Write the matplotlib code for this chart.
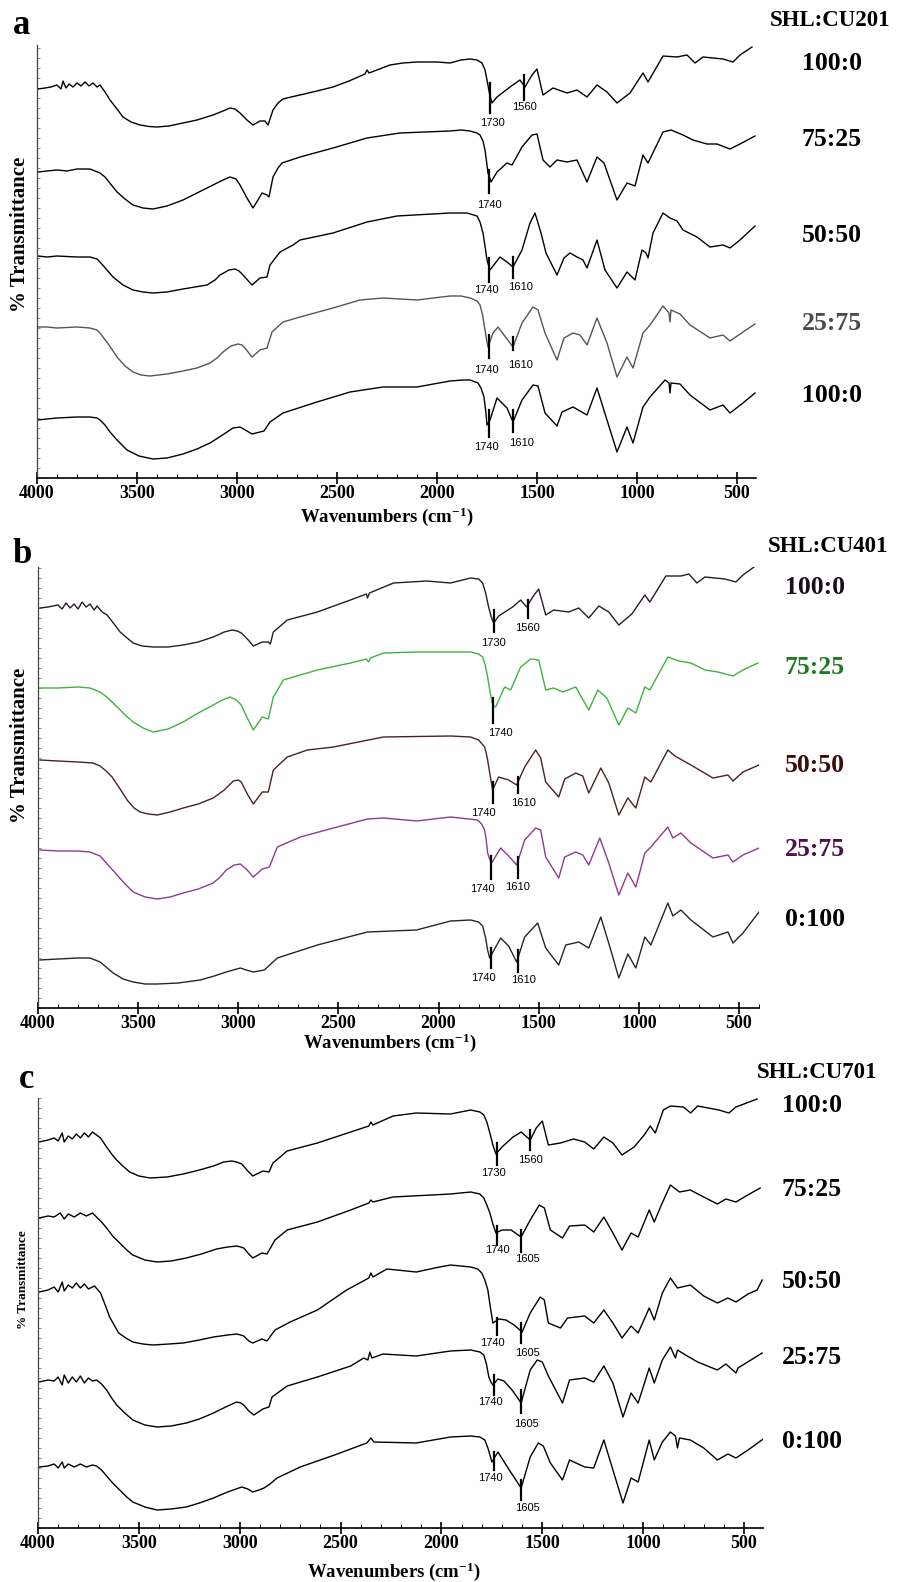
import numpy as np
import matplotlib
matplotlib.use("Agg")
import matplotlib.pyplot as plt
from matplotlib.ticker import MultipleLocator

plt.rcParams["font.family"] = ["Liberation Serif", "DejaVu Serif"]
plt.rcParams["mathtext.default"] = "regular"

# FTIR traces: (wavenumber cm-1, stacked %T in arbitrary units)
# --- panel a : SHL:CU201
a_100_0 = np.array([
    (3995, 389), (3960, 390), (3930, 391), (3900, 393), (3880, 389), (3870, 397), (3855, 390),
    (3840, 394), (3820, 391), (3800, 395), (3780, 392), (3760, 396), (3740, 392), (3720, 395),
    (3700, 391), (3685, 393), (3660, 386), (3635, 378), (3600, 369), (3570, 361), (3530, 356),
    (3485, 353), (3440, 351.5), (3400, 351), (3340, 352), (3270, 355), (3200, 358), (3120, 363),
    (3070, 367), (3035, 370), (3010, 369), (2985, 365), (2950, 358), (2920, 353), (2885, 357),
    (2860, 357), (2845, 353), (2820, 368), (2795, 375), (2770, 379), (2730, 381), (2685, 383),
    (2600, 387), (2520, 391), (2440, 397), (2360, 404), (2350, 408), (2340, 405), (2235, 413),
    (2170, 415), (2100, 416), (2000, 416), (1935, 415), (1880, 418), (1835, 419), (1800, 418),
    (1775, 415), (1760, 408), (1750, 398), (1738, 385), (1725, 375), (1700, 381), (1635, 391),
    (1585, 398), (1560, 391), (1525, 403), (1500, 409), (1470, 383), (1420, 390), (1350, 385),
    (1300, 388), (1250, 381), (1200, 393), (1150, 386), (1100, 375), (1035, 385), (970, 405),
    (945, 396), (870, 422), (800, 421), (750, 423), (710, 415), (670, 421), (570, 419),
    (520, 416), (485, 423), (425, 431)])
a_75_25 = np.array([
    (3995, 306), (3950, 307), (3900, 308), (3850, 307), (3800, 309), (3735, 309), (3685, 305),
    (3660, 301), (3640, 296), (3600, 286), (3560, 279), (3520, 273), (3470, 270), (3420, 269),
    (3350, 272), (3270, 278), (3200, 285), (3120, 293), (3070, 298), (3035, 301), (3005, 299),
    (2985, 293), (2950, 280), (2920, 270), (2895, 278), (2875, 285), (2850, 283), (2840, 281),
    (2820, 301), (2795, 310), (2775, 315), (2685, 321), (2520, 330), (2350, 340), (2185, 345),
    (1935, 347), (1880, 348), (1835, 347), (1800, 345), (1785, 343), (1770, 337), (1760, 328),
    (1752, 316), (1745, 305), (1730, 296), (1700, 306), (1650, 315), (1625, 313), (1575, 331),
    (1525, 343), (1500, 344), (1470, 318), (1435, 311), (1400, 318), (1350, 316), (1300, 318),
    (1250, 296), (1200, 321), (1165, 315), (1100, 278), (1050, 295), (1010, 292), (970, 323),
    (945, 315), (870, 346), (830, 348), (770, 343), (720, 338), (650, 334), (600, 334),
    (535, 329), (485, 334), (410, 342)])
a_50_50 = np.array([
    (3995, 222), (3950, 221), (3900, 222), (3800, 221), (3735, 221), (3700, 219), (3685, 216),
    (3650, 208), (3620, 201), (3570, 193), (3520, 188), (3470, 186), (3420, 185), (3350, 186),
    (3270, 189), (3210, 191), (3150, 193), (3110, 198), (3085, 203), (3040, 208), (3010, 209),
    (2990, 207), (2970, 203), (2925, 193), (2885, 200), (2850, 201), (2835, 213), (2785, 226),
    (2720, 233), (2685, 238), (2520, 245), (2350, 256), (2200, 262), (1935, 265), (1850, 265),
    (1800, 262), (1785, 256), (1770, 245), (1760, 232), (1750, 218), (1735, 208), (1685, 221),
    (1650, 216), (1620, 211), (1575, 228), (1535, 255), (1510, 265), (1480, 245), (1455, 225),
    (1400, 203), (1365, 220), (1335, 225), (1300, 221), (1270, 218), (1250, 210), (1200, 238),
    (1160, 208), (1100, 190), (1050, 206), (1010, 198), (975, 228), (955, 225), (945, 220),
    (920, 245), (870, 265), (835, 260), (800, 257), (770, 248), (700, 241), (635, 231),
    (570, 233), (535, 230), (485, 238), (410, 252)])
a_25_75 = np.array([
    (3995, 151), (3950, 151), (3900, 150), (3800, 151), (3735, 150), (3700, 148), (3685, 145),
    (3640, 133), (3600, 121), (3560, 112), (3520, 106), (3480, 103), (3435, 102), (3350, 104),
    (3270, 107), (3200, 110), (3135, 115), (3100, 120), (3070, 126), (3030, 132), (2995, 134),
    (2975, 133), (2960, 130), (2925, 121), (2885, 128), (2850, 130), (2825, 146), (2770, 156),
    (2685, 161), (2520, 170), (2385, 178), (2270, 180), (2100, 178), (1935, 182), (1880, 182),
    (1835, 180), (1800, 177), (1785, 173), (1772, 163), (1760, 148), (1752, 138), (1745, 131),
    (1720, 145), (1695, 151), (1620, 131), (1575, 155), (1520, 171), (1495, 168), (1460, 145),
    (1400, 118), (1365, 140), (1320, 145), (1285, 143), (1250, 133), (1200, 160), (1150, 135),
    (1100, 101), (1050, 121), (1020, 110), (970, 145), (935, 153), (870, 172), (840, 165),
    (835, 156), (830, 168), (785, 164), (735, 153), (635, 140), (570, 143), (535, 137),
    (470, 146), (410, 154)])
a_bottom = np.array([
    (3995, 58), (3950, 59), (3900, 60), (3800, 61), (3735, 61), (3700, 60), (3685, 58),
    (3660, 53), (3635, 46), (3600, 38), (3550, 28), (3490, 22), (3420, 19), (3350, 20),
    (3270, 24), (3200, 29), (3135, 35), (3080, 42), (3020, 50), (2985, 51), (2950, 47),
    (2925, 44), (2865, 47), (2835, 56), (2770, 65), (2600, 76), (2435, 86), (2270, 91),
    (2100, 91), (1935, 97), (1870, 98), (1835, 98), (1795, 95), (1780, 90), (1765, 81),
    (1757, 68), (1750, 53), (1735, 58), (1700, 80), (1650, 70), (1620, 56), (1575, 78),
    (1520, 93), (1495, 92), (1460, 65), (1400, 52), (1375, 66), (1320, 71), (1285, 67),
    (1250, 63), (1200, 90), (1150, 58), (1100, 26), (1050, 51), (1020, 35), (970, 71),
    (935, 81), (860, 98), (840, 95), (835, 85), (830, 95), (785, 94), (735, 83), (635, 68),
    (570, 73), (535, 65), (470, 75), (410, 85)])

# --- panel b : SHL:CU401
b_100_0 = np.array([
    (3990, 400), (3950, 401), (3900, 403), (3880, 399), (3860, 405), (3840, 400), (3820, 404),
    (3800, 399), (3780, 406), (3760, 401), (3740, 404), (3720, 398), (3705, 402), (3680, 396),
    (3655, 393), (3620, 384), (3590, 376), (3555, 370), (3525, 365), (3480, 362), (3425, 361),
    (3350, 361), (3275, 363), (3200, 366), (3125, 371), (3070, 376), (3030, 378), (3005, 377),
    (2985, 375), (2950, 368), (2925, 362), (2880, 366), (2850, 366), (2840, 364), (2825, 376),
    (2755, 388), (2605, 396), (2440, 408), (2360, 414), (2355, 410), (2345, 415), (2225, 425),
    (2060, 427), (1940, 425), (1880, 428), (1840, 430), (1800, 429), (1780, 425), (1765, 415),
    (1750, 401), (1737, 391), (1725, 385), (1700, 392), (1630, 401), (1590, 408), (1560, 401),
    (1530, 411), (1500, 419), (1465, 393), (1425, 398), (1350, 396), (1300, 400), (1250, 390),
    (1200, 402), (1150, 396), (1100, 383), (1035, 394), (970, 413), (945, 406), (865, 432),
    (790, 432), (750, 434), (710, 425), (670, 431), (570, 429), (515, 426), (480, 433),
    (425, 441)])
b_75_25 = np.array([
    (3990, 320), (3900, 320), (3800, 321), (3740, 320), (3690, 316), (3650, 310), (3605, 301),
    (3565, 293), (3525, 286), (3475, 280), (3425, 276), (3350, 279), (3275, 286), (3200, 295),
    (3125, 303), (3080, 308), (3040, 311), (3010, 308), (2985, 303), (2955, 290), (2925, 278),
    (2880, 291), (2850, 289), (2825, 311), (2775, 328), (2605, 338), (2440, 345), (2360, 349),
    (2350, 346), (2340, 350), (2275, 355), (2110, 356), (1940, 356), (1840, 356), (1800, 354),
    (1780, 351), (1767, 343), (1755, 331), (1742, 315), (1730, 303), (1715, 301), (1670, 321),
    (1640, 318), (1590, 341), (1540, 349), (1500, 348), (1465, 318), (1425, 320), (1380, 316),
    (1315, 321), (1250, 298), (1205, 318), (1160, 310), (1100, 283), (1055, 300), (1015, 295),
    (970, 321), (945, 318), (855, 351), (800, 347), (740, 345), (670, 338), (605, 336),
    (530, 332), (480, 338), (405, 345)])
b_50_50 = np.array([
    (3990, 248), (3900, 247), (3800, 246), (3725, 245), (3690, 242), (3660, 237), (3630, 231),
    (3590, 219), (3555, 208), (3520, 200), (3490, 196), (3450, 194), (3405, 193), (3340, 196),
    (3275, 200), (3200, 204), (3125, 210), (3070, 218), (3025, 227), (3000, 228), (2985, 226),
    (2955, 214), (2925, 204), (2880, 216), (2850, 216), (2825, 238), (2755, 251), (2655, 258),
    (2525, 261), (2275, 271), (1940, 272), (1840, 271), (1800, 268), (1770, 261), (1762, 255),
    (1755, 248), (1742, 232), (1730, 218), (1700, 231), (1650, 228), (1610, 223), (1570, 241),
    (1515, 258), (1490, 250), (1465, 226), (1400, 211), (1370, 229), (1315, 235), (1280, 232),
    (1250, 215), (1190, 240), (1150, 225), (1100, 193), (1055, 210), (1015, 200), (970, 231),
    (940, 226), (855, 258), (820, 252), (740, 243), (630, 230), (555, 233), (530, 227),
    (480, 236), (400, 243)])
b_25_75 = np.array([
    (3990, 158), (3900, 157), (3800, 157), (3740, 156), (3690, 152), (3650, 143), (3605, 133),
    (3565, 124), (3525, 116), (3465, 111), (3405, 109), (3340, 111), (3275, 115), (3200, 119),
    (3125, 125), (3090, 131), (3060, 138), (3020, 143), (2990, 144), (2960, 139), (2925, 131),
    (2880, 139), (2845, 141), (2805, 161), (2690, 171), (2525, 180), (2355, 189), (2275, 190),
    (2110, 187), (1940, 191), (1805, 188), (1785, 184), (1770, 178), (1762, 168), (1755, 155),
    (1745, 149), (1735, 145), (1690, 160), (1650, 152), (1610, 143), (1570, 168), (1515, 180),
    (1490, 178), (1465, 151), (1400, 130), (1370, 151), (1315, 156), (1280, 153), (1250, 143),
    (1195, 170), (1150, 145), (1100, 113), (1055, 135), (1015, 121), (970, 155), (940, 161),
    (855, 181), (830, 170), (790, 175), (740, 165), (630, 150), (555, 153), (530, 146),
    (480, 153), (400, 160)])
b_0_100 = np.array([
    (3990, 48), (3900, 49), (3800, 50), (3740, 50), (3690, 46), (3660, 41), (3625, 35),
    (3575, 29), (3525, 26), (3465, 24), (3405, 24), (3300, 25), (3190, 28), (3120, 32),
    (3060, 36), (2990, 40), (2960, 38), (2925, 36), (2870, 38), (2805, 50), (2605, 63),
    (2355, 76), (2110, 78), (1940, 87), (1840, 88), (1800, 86), (1780, 82), (1765, 70),
    (1755, 58), (1745, 50), (1690, 70), (1650, 62), (1610, 46), (1570, 71), (1505, 85),
    (1465, 60), (1400, 43), (1365, 63), (1300, 66), (1250, 60), (1190, 91), (1140, 58),
    (1100, 30), (1055, 54), (1015, 40), (970, 71), (940, 63), (855, 105), (830, 92), (790, 98),
    (740, 88), (630, 71), (555, 76), (530, 65), (480, 75), (400, 96)])

# --- panel c : SHL:CU701
c_100_0 = np.array([
    (3995, 386), (3950, 388), (3920, 390), (3900, 387), (3880, 395), (3870, 386), (3850, 392),
    (3830, 389), (3810, 394), (3790, 390), (3770, 395), (3750, 391), (3730, 396), (3710, 393),
    (3690, 390), (3660, 381), (3635, 374), (3610, 368), (3580, 362), (3545, 356), (3500, 352),
    (3445, 350), (3360, 351), (3280, 354), (3200, 358), (3130, 362), (3080, 366), (3040, 367),
    (3015, 366), (2990, 364), (2960, 357), (2935, 352), (2885, 357), (2855, 356), (2835, 365),
    (2765, 377), (2615, 385), (2450, 396), (2360, 402), (2350, 406), (2340, 403), (2240, 412),
    (2125, 415), (1955, 414), (1855, 418), (1810, 416), (1790, 413), (1775, 406), (1760, 395),
    (1745, 383), (1730, 374), (1700, 381), (1645, 391), (1605, 396), (1560, 388), (1530, 400),
    (1500, 407), (1470, 383), (1410, 385), (1345, 389), (1290, 386), (1245, 379), (1195, 391),
    (1150, 385), (1105, 373), (1045, 381), (995, 393), (965, 402), (940, 395), (900, 418),
    (865, 422), (800, 421), (765, 415), (730, 422), (625, 418), (575, 415), (540, 421),
    (435, 429)])
c_75_25 = np.array([
    (3995, 310), (3950, 312), (3920, 311), (3890, 315), (3870, 309), (3850, 314), (3820, 311),
    (3790, 315), (3760, 312), (3730, 315), (3710, 311), (3685, 306), (3660, 300), (3630, 292),
    (3595, 285), (3560, 278), (3530, 273), (3470, 268), (3410, 266), (3340, 267), (3265, 270),
    (3190, 274), (3115, 279), (3060, 281), (3015, 282), (2995, 281), (2980, 280), (2955, 274),
    (2935, 270), (2890, 275), (2865, 274), (2825, 288), (2765, 298), (2615, 306), (2450, 318),
    (2360, 325), (2350, 328), (2340, 326), (2240, 331), (1955, 334), (1855, 336), (1810, 334),
    (1790, 330), (1775, 323), (1760, 315), (1745, 304), (1730, 295), (1700, 298), (1655, 298),
    (1605, 291), (1560, 308), (1515, 323), (1490, 320), (1460, 298), (1400, 290), (1365, 302),
    (1290, 303), (1245, 296), (1195, 311), (1150, 295), (1105, 278), (1060, 295), (1025, 291),
    (970, 318), (945, 306), (910, 323), (865, 343), (820, 336), (766, 338), (700, 331),
    (632, 324), (590, 329), (540, 326), (490, 332), (420, 340)])
c_50_50 = np.array([
    (3995, 236), (3950, 238), (3920, 241), (3900, 236), (3880, 246), (3870, 237), (3850, 243),
    (3830, 240), (3810, 245), (3790, 240), (3770, 244), (3750, 239), (3720, 242), (3690, 235),
    (3665, 222), (3645, 211), (3620, 202), (3600, 195), (3565, 190), (3530, 186), (3480, 184),
    (3430, 183), (3350, 184), (3280, 185), (3200, 188), (3130, 191), (3060, 193), (3015, 194),
    (2995, 193), (2980, 192), (2955, 187), (2935, 185), (2890, 189), (2865, 187), (2825, 198),
    (2750, 206), (2615, 218), (2470, 238), (2360, 250), (2350, 255), (2340, 251), (2270, 259),
    (2125, 256), (2010, 261), (1955, 263), (1855, 261), (1820, 259), (1800, 255), (1785, 248),
    (1770, 238), (1757, 220), (1745, 205), (1715, 209), (1680, 208), (1640, 203), (1600, 196),
    (1560, 215), (1510, 231), (1490, 228), (1470, 205), (1410, 200), (1375, 210), (1290, 212),
    (1245, 205), (1195, 218), (1150, 205), (1105, 190), (1060, 202), (1025, 195), (970, 220),
    (945, 208), (905, 235), (865, 250), (830, 240), (766, 243), (700, 232), (632, 225),
    (580, 230), (540, 226), (480, 234), (435, 238), (410, 248)])
c_25_75 = np.array([
    (3995, 146), (3950, 148), (3920, 147), (3900, 151), (3880, 143), (3870, 153), (3850, 145),
    (3830, 151), (3810, 146), (3790, 152), (3770, 145), (3750, 150), (3730, 147), (3710, 148),
    (3685, 144), (3660, 138), (3635, 130), (3610, 123), (3570, 115), (3530, 108), (3470, 103),
    (3410, 101), (3340, 102), (3265, 105), (3200, 109), (3130, 115), (3070, 121), (3015, 126),
    (2995, 125), (2980, 123), (2955, 117), (2930, 113), (2885, 119), (2855, 121), (2840, 131),
    (2765, 142), (2615, 151), (2450, 162), (2385, 170), (2365, 168), (2355, 176), (2345, 170),
    (2290, 174), (2125, 172), (1955, 177), (1855, 178), (1810, 176), (1790, 173), (1777, 164),
    (1765, 151), (1755, 146), (1745, 143), (1720, 149), (1690, 147), (1650, 138), (1605, 125),
    (1560, 158), (1525, 168), (1500, 166), (1470, 152), (1400, 125), (1365, 148), (1290, 150),
    (1245, 146), (1195, 162), (1150, 145), (1100, 111), (1060, 135), (1025, 125), (970, 160),
    (945, 145), (905, 168), (865, 181), (840, 170), (830, 178), (790, 173), (730, 166),
    (632, 158), (590, 164), (540, 155), (530, 160), (410, 175)])
c_0_100 = np.array([
    (3995, 61), (3950, 62), (3920, 64), (3900, 60), (3880, 66), (3870, 60), (3850, 64),
    (3820, 61), (3790, 64), (3760, 61), (3730, 63), (3710, 62), (3685, 58), (3660, 52),
    (3630, 45), (3595, 38), (3560, 31), (3530, 26), (3470, 21), (3410, 18), (3340, 19),
    (3265, 21), (3200, 25), (3130, 30), (3060, 36), (2990, 41), (2960, 39), (2935, 36),
    (2905, 38), (2880, 40), (2850, 44), (2815, 50), (2700, 61), (2530, 73), (2370, 85),
    (2350, 90), (2335, 86), (2125, 85), (1955, 91), (1855, 92), (1810, 91), (1785, 88),
    (1768, 79), (1750, 66), (1720, 76), (1670, 60), (1605, 40), (1560, 71), (1520, 85),
    (1495, 82), (1460, 65), (1400, 48), (1365, 68), (1290, 61), (1245, 60), (1195, 88),
    (1150, 58), (1100, 25), (1060, 50), (1025, 46), (970, 88), (945, 68), (905, 86), (865, 96),
    (840, 92), (830, 80), (820, 90), (766, 88), (700, 80), (632, 68), (580, 74), (540, 70),
    (480, 78), (405, 89)])

ratios_a = ["100:0", "75:25", "50:50", "25:75", "100:0"]
ratios_bc = ["100:0", "75:25", "50:50", "25:75", "0:100"]
tick_values = [4000, 3500, 3000, 2500, 2000, 1500, 1000, 500]

# ---------------------------------------------------------------- layout
W, H = 900, 1582
fig = plt.figure(figsize=(W / 100, H / 100), dpi=100)


def fx(x):
    return x / W


def fy(y):
    return 1 - y / H


panels = [
    dict(box=(37, 45, 756, 478), xlim=(4000, 405), ylim=(0, 433), letter="a", letter_xy=(22, 25),
         title="SHL:CU201", title_xy=(830, 20),
         traces=[a_100_0, a_75_25, a_50_50, a_25_75, a_bottom],
         colors=["black", "black", "black", "#555555", "black"],
         ratios=ratios_a, label_x=832, label_y=[63, 140, 235, 323, 395],
         label_colors=["black", "black", "black", "#4a4a4a", "black"],
         ylabel_xy=(20, 234), ylabel_size=15, xlabel_xy=(387, 517),
         peaks=[("1730", 1735, 395, 365, 1725, 355), ("1560", 1565, 403, 378, 1563, 371),
                ("1740", 1740, 308, 285, 1740, 273),
                ("1740", 1740, 220, 196, 1755, 188), ("1610", 1620, 221, 200, 1580, 191),
                ("1740", 1740, 143, 120, 1755, 108), ("1610", 1620, 141, 128, 1580, 113),
                ("1740", 1740, 68, 41, 1755, 31), ("1610", 1620, 68, 46, 1575, 35)]),
    dict(box=(38, 567, 759, 1008), xlim=(4000, 400), ylim=(0, 441), letter="b", letter_xy=(22, 555),
         title="SHL:CU401", title_xy=(828, 547),
         traces=[b_100_0, b_75_25, b_50_50, b_25_75, b_0_100],
         colors=["#2a1a2c", "#3fb23f", "#4a2222", "#8e3a8e", "#26242e"],
         ratios=ratios_bc, label_x=815, label_y=[588, 667, 765, 850, 920],
         label_colors=["#1a0f1c", "#1f7a1f", "#3d0c0c", "#4a1248", "black"],
         ylabel_xy=(20, 745), ylabel_size=15, xlabel_xy=(390, 1043),
         peaks=[("1730", 1725, 398, 376, 1725, 365), ("1560", 1555, 408, 390, 1555, 380),
                ("1740", 1730, 310, 285, 1690, 275),
                ("1740", 1730, 226, 205, 1775, 195), ("1610", 1605, 231, 215, 1575, 205),
                ("1740", 1740, 152, 129, 1780, 119), ("1610", 1605, 151, 130, 1605, 121),
                ("1740", 1740, 60, 40, 1775, 30), ("1610", 1605, 58, 36, 1575, 28)]),
    dict(box=(38, 1098, 763, 1528), xlim=(4000, 406), ylim=(0, 430), letter="c", letter_xy=(27, 1080),
         title="SHL:CU701", title_xy=(817, 1072),
         traces=[c_100_0, c_75_25, c_50_50, c_25_75, c_0_100],
         colors=["black"] * 5,
         ratios=ratios_bc, label_x=812, label_y=[1105, 1190, 1282, 1357, 1442],
         label_colors=["black"] * 5,
         ylabel_xy=(23, 1280), ylabel_size=9.5, xlabel_xy=(394, 1572),
         peaks=[("1730", 1723, 385, 363, 1743, 355), ("1560", 1560, 398, 378, 1560, 368),
                ("1740", 1723, 302, 283, 1723, 278), ("1605", 1604, 298, 276, 1575, 269),
                ("1740", 1725, 210, 193, 1748, 185), ("1605", 1604, 205, 185, 1575, 175),
                ("1740", 1738, 153, 133, 1758, 126), ("1605", 1604, 138, 115, 1580, 104),
                ("1740", 1740, 76, 58, 1758, 50), ("1605", 1604, 48, 28, 1575, 20)]),
]

bold = dict(fontweight="bold", family=["Liberation Serif", "DejaVu Serif"])

for p in panels:
    left, top, right, bottom = p["box"]
    ax = fig.add_axes([fx(left), fy(bottom), (right - left) / W, (bottom - top) / H])
    for trace, col in zip(p["traces"], p["colors"]):
        ax.plot(trace[:, 0], trace[:, 1], color=col, lw=1.0)

    for lab, wn, h_top, h_bot, t_wn, t_h in p["peaks"]:
        ax.plot([wn, wn], [h_bot, h_top], color="black", lw=1.6)
        ax.text(t_wn, t_h, lab, ha="center", va="center", fontsize=8,
                family=["Liberation Sans", "DejaVu Sans"])

    ax.set_xlim(*p["xlim"])
    ax.set_ylim(*p["ylim"])
    for side in ("top", "right"):
        ax.spines[side].set_visible(False)
    ax.spines["bottom"].set_linewidth(1.2)
    ax.spines["left"].set_linewidth(0.9)
    ax.spines["left"].set_color("#444444")

    ax.set_xticks(tick_values)
    ax.set_xticklabels([str(v) for v in tick_values], fontsize=13, **bold)
    ax.xaxis.set_minor_locator(MultipleLocator(100))
    ax.tick_params(axis="x", which="major", direction="inout", length=8, width=1.2, pad=1)
    ax.tick_params(axis="x", which="minor", direction="in", length=3, width=0.7)
    ax.set_yticks([])
    ax.yaxis.set_minor_locator(MultipleLocator(10))
    ax.tick_params(axis="y", which="minor", direction="in", length=2, width=0.6, color="#777777")

    fig.text(fx(p["xlabel_xy"][0]), fy(p["xlabel_xy"][1]), "Wavenumbers (cm$^{-1}$)",
             ha="center", va="center", fontsize=13.5, **bold)
    fig.text(fx(p["ylabel_xy"][0]), fy(p["ylabel_xy"][1]), "% Transmittance", rotation=90,
             ha="center", va="center", fontsize=p["ylabel_size"], **bold)
    fig.text(fx(p["letter_xy"][0]), fy(p["letter_xy"][1]), p["letter"],
             ha="center", va="center", fontsize=25, **bold)
    fig.text(fx(p["title_xy"][0]), fy(p["title_xy"][1]), p["title"],
             ha="center", va="center", fontsize=16.5, **bold)
    for lab, ly, lc in zip(p["ratios"], p["label_y"], p["label_colors"]):
        fig.text(fx(p["label_x"]), fy(ly), lab, ha="center", va="center",
                 fontsize=18.5, color=lc, **bold)

fig.savefig("out.png", dpi=100, facecolor="white")
